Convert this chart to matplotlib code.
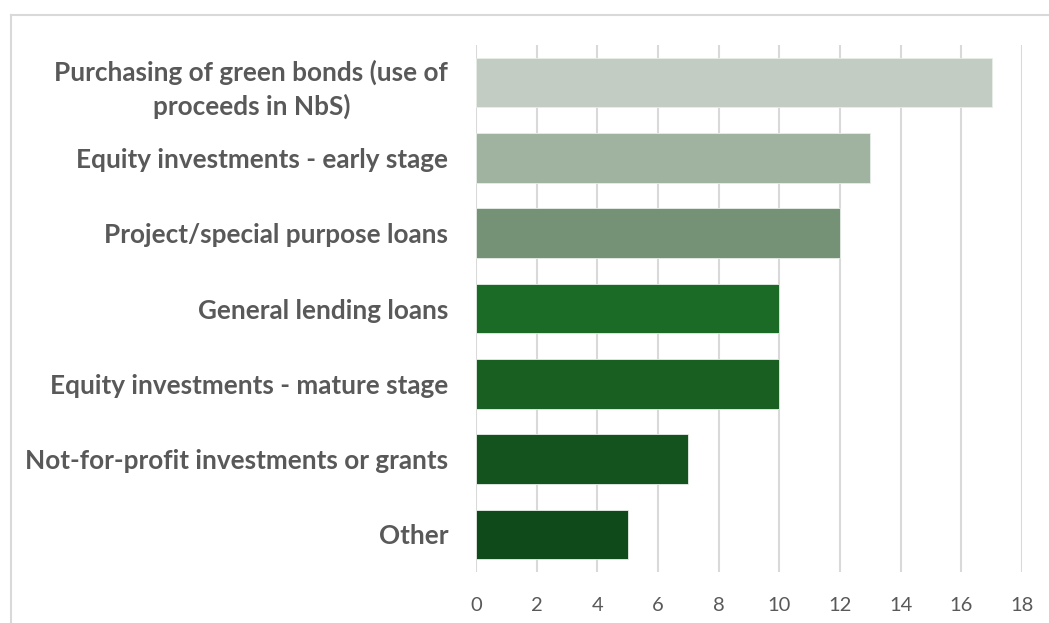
import matplotlib
matplotlib.use("Agg")
import matplotlib.pyplot as plt
from matplotlib.lines import Line2D

categories = [
    "Purchasing of green bonds (use of\nproceeds in NbS)",
    "Equity investments - early stage",
    "Project/special purpose loans",
    "General lending loans",
    "Equity investments - mature stage",
    "Not-for-profit investments or grants",
    "Other",
]
values = [17, 13, 12, 10, 10, 7, 5]
colors = ["#C2CCC2", "#A0B2A0", "#769276", "#1B6A25", "#1A5F22", "#15531E", "#0F4A1A"]
xticks = list(range(0, 20, 2))

fig = plt.figure(figsize=(10.49, 6.23), dpi=100)
ax = fig.add_axes([476 / 1049, 1 - 572 / 623, 546 / 1049, 527 / 623])

ypos = list(range(len(categories)))
ax.barh(ypos, values, height=0.66, color=colors, edgecolor="#E8EEE8", linewidth=0.6, zorder=3)
ax.set_ylim(len(categories) - 0.5, -0.5)
ax.set_xlim(0, 18)

ax.set_xticks(xticks)
ax.set_yticks(ypos)
ax.set_yticklabels(categories, fontsize=18.8, fontweight="bold", color="#595959",
                   family="Lato", multialignment="center", linespacing=1.4)
ax.set_xticklabels([str(t) for t in xticks], fontsize=14.5, color="#595959", family="Lato")
ax.tick_params(axis="both", length=0)
ax.tick_params(axis="y", pad=20)
ax.tick_params(axis="x", pad=18)

ax.grid(axis="x", color="#D9D9D9", linewidth=1.5, zorder=0)
for s in ax.spines.values():
    s.set_visible(False)

# outer chart frame (top and left edges)
fig.add_artist(Line2D([11 / 1049, 1], [1 - 15 / 623, 1 - 15 / 623], color="#D9D9D9", linewidth=1.5,
                      transform=fig.transFigure))
fig.add_artist(Line2D([11 / 1049, 11 / 1049], [0, 1 - 15 / 623], color="#D9D9D9", linewidth=1.5,
                      transform=fig.transFigure))

fig.savefig("out.png", dpi=100)
